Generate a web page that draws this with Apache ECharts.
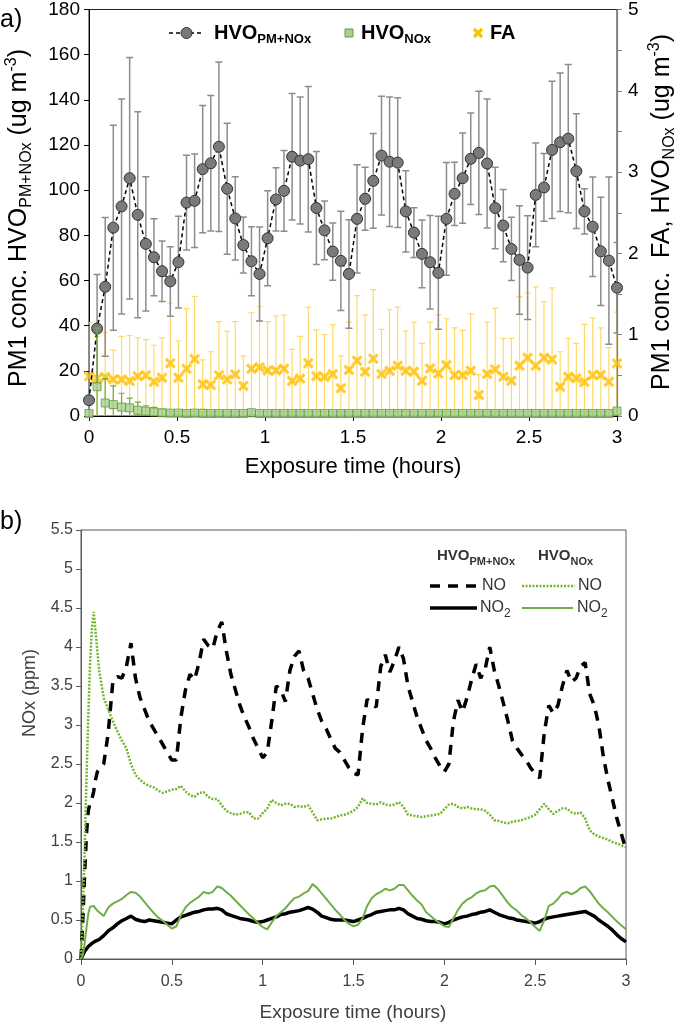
<!DOCTYPE html>
<html><head><meta charset="utf-8">
<script src="https://cdn.jsdelivr.net/npm/echarts@6/dist/echarts.min.js"></script>
<style>html,body{margin:0;padding:0;background:#fff}#c{width:685px;height:1029px}</style>
</head><body><div id="c"></div>
<script>
// ---------- Panel a) data ----------
const topTimes = [0,0.046,0.092,0.138,0.185,0.231,0.277,0.323,0.369,0.415,0.462,0.508,0.554,0.600,0.646,0.692,0.738,0.785,0.831,0.877,0.923,0.969,1.015,1.062,1.108,1.154,1.200,1.246,1.292,1.338,1.385,1.431,1.477,1.523,1.569,1.615,1.662,1.708,1.754,1.800,1.846,1.892,1.938,1.985,2.031,2.077,2.123,2.169,2.215,2.262,2.308,2.354,2.400,2.446,2.492,2.538,2.585,2.631,2.677,2.723,2.769,2.815,2.862,2.908,2.954,3.000];
const pmNoxMean = [7.0,38.7,57.2,83.4,92.8,105.3,89.1,76.2,70.3,64.1,59.6,68.1,94.5,95.3,109.3,111.9,119.2,100.6,87.5,75.7,68.5,62.9,78.7,95.9,99.7,114.8,113.1,113.7,92.1,82.2,72.8,68.7,62.9,87.3,96.2,104.1,115.3,112.6,112.2,90.6,81.2,71.8,68.1,63.4,87.3,98.4,105.3,113.9,116.5,111.8,92.1,84.3,74.0,69.1,65.7,97.9,101.2,117.8,121.2,122.8,108.4,90.6,83.8,72.9,68.8,56.8];
const pmNoxErr = [7.5,24,30.7,45.4,47.6,53.5,45.6,29.7,17,13.4,15.4,20.3,21,20.7,28.2,30,37.5,29,18.4,12.4,15.3,20.8,21,14,17.9,28,28.1,32.2,25,13,12.7,22,24,24,14,21,26.3,28.7,28.7,18,11,15,20.7,25,25,14,20,20.3,27.3,28.6,18,16,14,24,23,23,15,30.4,30.7,32.8,25.4,10,22,24,37,20];
const faMean = [0.49,0.46,0.48,0.45,0.45,0.43,0.49,0.50,0.42,0.47,0.65,0.47,0.58,0.70,0.39,0.38,0.50,0.45,0.51,0.37,0.58,0.60,0.56,0.56,0.58,0.43,0.46,0.65,0.49,0.48,0.515,0.34,0.565,0.68,0.544,0.704,0.516,0.557,0.618,0.557,0.544,0.434,0.585,0.524,0.626,0.503,0.503,0.557,0.258,0.516,0.573,0.483,0.434,0.618,0.716,0.618,0.716,0.696,0.36,0.483,0.463,0.418,0.503,0.503,0.42,0.647];
const faErr = [0.66,0.52,0.55,0.36,0.53,0.56,0.47,0.44,0.45,0.49,0.74,0.45,0.74,0.77,0.30,0.41,0.66,0.59,0.65,0.37,0.69,0.75,0.60,0.67,0.66,0.39,0.52,0.69,0.57,0.52,0.61,0.40,0.59,0.80,0.70,0.85,0.55,0.75,0.72,0.49,0.61,0.46,0.57,0.72,0.57,0.58,0.55,0.70,0.25,0.64,0.75,0.47,0.52,0.85,0.80,0.97,0.69,0.88,0.43,0.47,0.43,0.71,0.70,0.58,0.42,0.63];
const noxMean = [0.03,0.36,0.16,0.14,0.11,0.10,0.07,0.06,0.05,0.04,0.035,0.035,0.03,0.035,0.03,0.03,0.03,0.03,0.03,0.03,0.04,0.03,0.03,0.03,0.03,0.03,0.03,0.03,0.03,0.03,0.03,0.03,0.03,0.03,0.03,0.03,0.03,0.03,0.03,0.03,0.03,0.03,0.03,0.03,0.03,0.03,0.03,0.03,0.03,0.03,0.03,0.03,0.03,0.03,0.03,0.03,0.03,0.03,0.03,0.03,0.03,0.03,0.03,0.03,0.03,0.06];
const noxErr = [0.02,0.72,0.30,0.23,0.17,0.12,0.10,0.066,0.057,0.04,0.02,0.02,0.02,0.02,0.02,0.02,0.02,0.02,0.02,0.02,0.02,0.02,0.02,0.02,0.02,0.02,0.02,0.02,0.02,0.02,0.02,0.02,0.02,0.02,0.02,0.02,0.02,0.02,0.02,0.02,0.02,0.02,0.02,0.02,0.02,0.02,0.02,0.02,0.02,0.02,0.02,0.02,0.02,0.02,0.02,0.02,0.02,0.02,0.02,0.02,0.02,0.02,0.02,0.02,0.02,0.02];

// ---------- Panel b) data ----------
const noxTimes = [0,0.01,0.02,0.03,0.04,0.05,0.06,0.07,0.08,0.09,0.1,
 0.125,0.15,0.175,0.2,0.225,0.25,0.275,0.3,0.325,0.35,0.375,0.4,0.425,0.45,0.475,0.5,
 0.525,0.55,0.575,0.6,0.625,0.65,0.675,0.7,0.725,0.75,0.775,0.8,0.825,0.85,0.875,0.9,0.925,0.95,0.975,1.0,
 1.025,1.05,1.075,1.1,1.125,1.15,1.175,1.2,1.225,1.25,1.275,1.3,1.325,1.35,1.375,1.4,1.425,1.45,1.475,1.5,
 1.525,1.55,1.575,1.6,1.625,1.65,1.675,1.7,1.725,1.75,1.775,1.8,1.825,1.85,1.875,1.9,1.925,1.95,1.975,2.0,
 2.025,2.05,2.075,2.1,2.125,2.15,2.175,2.2,2.225,2.25,2.275,2.3,2.325,2.35,2.375,2.4,2.425,2.45,2.475,2.5,
 2.525,2.55,2.575,2.6,2.625,2.65,2.675,2.7,2.725,2.75,2.775,2.8,2.825,2.85,2.875,2.9,2.925,2.95,2.975,3.0];
const noPmNox = [0,0.5,1.1,1.6,1.9,2.0,2.05,2.15,2.3,2.4,2.42,
 2.5,2.9,3.55,3.62,3.6,3.75,4.05,3.6,3.35,3.2,3.05,2.95,2.85,2.75,2.65,2.55,
 2.55,3.1,3.45,3.65,3.58,3.8,4.1,4.02,3.98,4.2,4.32,3.95,3.65,3.45,3.25,3.1,2.97,2.82,2.7,2.58,
 2.65,3.05,3.5,3.45,3.3,3.7,3.88,3.95,3.7,3.6,3.4,3.2,3.05,2.95,2.82,2.7,2.65,2.55,2.45,2.38,
 2.36,2.95,3.33,3.27,3.23,3.75,3.9,3.68,3.82,4.0,3.85,3.5,3.3,3.1,2.95,2.8,2.7,2.58,2.48,2.4,
 2.5,3.05,3.32,3.17,3.35,3.58,3.78,3.6,3.72,4.0,3.7,3.5,3.28,3.05,2.8,2.7,2.62,2.55,2.45,2.38,
 2.32,2.9,3.25,3.15,3.25,3.5,3.7,3.55,3.6,3.75,3.8,3.4,3.25,3.0,2.6,2.3,2.05,1.8,1.6,1.4];
const noNox = [0,0.6,1.4,2.3,3.1,3.8,4.25,4.45,4.2,3.95,3.7,
 3.35,3.2,3.05,2.92,2.8,2.7,2.5,2.36,2.3,2.25,2.22,2.2,2.16,2.13,2.15,2.17,
 2.18,2.22,2.15,2.1,2.08,2.13,2.14,2.08,2.05,2.05,1.97,1.9,1.87,1.85,1.86,1.88,1.88,1.8,1.8,1.87,
 1.93,2.04,2.0,1.97,1.99,1.99,1.95,1.96,1.95,1.97,1.88,1.78,1.79,1.8,1.8,1.82,1.84,1.85,1.87,1.9,
 1.95,2.06,2.0,1.99,1.98,2.01,1.98,1.97,1.98,2.01,1.95,1.85,1.84,1.83,1.82,1.83,1.84,1.85,1.86,1.92,
 1.98,1.99,1.95,1.93,1.95,1.93,1.92,1.92,1.9,1.85,1.78,1.77,1.75,1.74,1.76,1.77,1.78,1.8,1.82,1.85,
 1.92,1.99,1.92,1.86,1.9,1.93,1.93,1.88,1.86,1.88,1.8,1.65,1.6,1.57,1.55,1.53,1.5,1.48,1.46,1.43];
const no2PmNox = [0,0.05,0.1,0.13,0.16,0.18,0.2,0.22,0.23,0.24,0.25,
 0.3,0.36,0.4,0.45,0.49,0.52,0.55,0.51,0.49,0.48,0.5,0.49,0.48,0.47,0.46,0.45,
 0.5,0.54,0.56,0.58,0.6,0.61,0.63,0.64,0.64,0.65,0.63,0.58,0.56,0.54,0.52,0.51,0.5,0.48,0.47,0.48,
 0.5,0.52,0.54,0.57,0.58,0.6,0.61,0.62,0.64,0.66,0.64,0.6,0.55,0.53,0.51,0.5,0.5,0.5,0.49,0.48,
 0.5,0.52,0.55,0.57,0.6,0.61,0.62,0.63,0.63,0.65,0.63,0.58,0.55,0.52,0.51,0.49,0.48,0.48,0.47,0.45,
 0.47,0.5,0.52,0.54,0.55,0.57,0.58,0.6,0.61,0.63,0.6,0.57,0.55,0.53,0.52,0.5,0.49,0.48,0.47,0.46,
 0.48,0.51,0.53,0.54,0.55,0.56,0.57,0.58,0.59,0.6,0.61,0.58,0.55,0.5,0.46,0.42,0.37,0.31,0.26,0.22];
const no2Nox = [0,0.05,0.2,0.4,0.58,0.67,0.69,0.68,0.65,0.62,0.6,
 0.55,0.66,0.71,0.74,0.77,0.82,0.86,0.85,0.8,0.73,0.66,0.59,0.53,0.49,0.44,0.39,
 0.42,0.56,0.66,0.72,0.76,0.8,0.86,0.84,0.86,0.93,0.91,0.86,0.81,0.75,0.69,0.63,0.57,0.52,0.46,0.41,
 0.38,0.47,0.55,0.6,0.65,0.72,0.78,0.8,0.84,0.87,0.96,0.91,0.84,0.77,0.7,0.63,0.57,0.5,0.45,0.42,
 0.44,0.52,0.68,0.78,0.83,0.86,0.9,0.88,0.9,0.95,0.95,0.88,0.81,0.75,0.7,0.6,0.55,0.5,0.46,0.42,
 0.41,0.52,0.63,0.71,0.76,0.79,0.84,0.87,0.88,0.93,0.94,0.88,0.8,0.72,0.66,0.62,0.56,0.52,0.47,0.41,
 0.36,0.5,0.68,0.71,0.77,0.84,0.86,0.83,0.86,0.91,0.93,0.87,0.79,0.71,0.65,0.6,0.54,0.48,0.43,0.38];

// ---------- build ----------
const NARROW = "'Liberation Sans Narrow','Arial Narrow','Liberation Sans',Arial,sans-serif";
const ARIAL = "'Liberation Sans',Arial,sans-serif";
const zip = (t, v) => t.map((x, i) => [x, v[i]]);

function errBars(name, xi, yi, times, mean, err, color, w, cap, z) {
  return {
    name, type: 'custom', xAxisIndex: xi, yAxisIndex: yi, z, clip: true, silent: true,
    data: times.map((t, i) => [t, mean[i], err[i]]),
    encode: { x: 0, y: 1 },
    renderItem(params, api) {
      const t = api.value(0), m = api.value(1), e = api.value(2);
      const hi = api.coord([t, m + e]), lo = api.coord([t, m - e]);
      const st = { stroke: color, lineWidth: w };
      return { type: 'group', children: [
        { type: 'line', shape: { x1: hi[0], y1: hi[1], x2: lo[0], y2: lo[1] }, style: st },
        { type: 'line', shape: { x1: hi[0] - cap, y1: hi[1], x2: hi[0] + cap, y2: hi[1] }, style: st },
        { type: 'line', shape: { x1: lo[0] - cap, y1: lo[1], x2: lo[0] + cap, y2: lo[1] }, style: st }
      ]};
    }
  };
}

const X_PATH = 'path://M2,0 L5,3 L8,0 L10,2 L7,5 L10,8 L8,10 L5,7 L2,10 L0,8 L3,5 L0,2 Z';

const richTop = {
  n: { fontFamily: NARROW, fontSize: 25, fill: '#000' },
  s: { fontFamily: NARROW, fontSize: 16, fill: '#000', padding: [15, 0, 0, 0] },
  p: { fontFamily: NARROW, fontSize: 16, fill: '#000', padding: [0, 0, 14, 0] }
};
const richLeg = {
  b: { fontFamily: NARROW, fontSize: 20, fontWeight: 'bold', fill: '#000' },
  s: { fontFamily: NARROW, fontSize: 13, fontWeight: 'bold', fill: '#000', padding: [12, 0, 0, 0] }
};
const richLeg2 = {
  b: { fontFamily: ARIAL, fontSize: 15, fontWeight: 'bold', fill: '#333' },
  s: { fontFamily: ARIAL, fontSize: 11, fontWeight: 'bold', fill: '#333', padding: [12, 0, 0, 0] },
  n: { fontFamily: ARIAL, fontSize: 16, fill: '#333' },
  m: { fontFamily: ARIAL, fontSize: 12, fill: '#333', padding: [12, 0, 0, 0] }
};

const graphics = [
  { type: 'text', x: 0, y: 20, style: { text: 'a)', fontFamily: NARROW, fontSize: 25, fill: '#000', verticalAlign: 'middle' } },
  { type: 'text', x: 0, y: 522, style: { text: 'b)', fontFamily: NARROW, fontSize: 25, fill: '#000', verticalAlign: 'middle' } },
  { type: 'text', x: 19, y: 218, rotation: Math.PI / 2,
    style: { text: '{n|PM1 conc. HVO}{s|PM+NOx}{n| (ug m}{p|-3}{n|)}', rich: richTop, align: 'center', verticalAlign: 'middle' } },
  { type: 'text', x: 662, y: 212, rotation: Math.PI / 2,
    style: { text: '{n|PM1 conc.  FA, HVO}{s|NOx}{n| (ug m}{p|-3}{n|)}', rich: richTop, align: 'center', verticalAlign: 'middle' } },
  { type: 'text', x: 353, y: 467, style: { text: 'Exposure time (hours)', fontFamily: NARROW, fontSize: 22, fill: '#000', align: 'center', verticalAlign: 'middle' } },
  // top legend
  { type: 'line', shape: { x1: 169, y1: 33, x2: 204, y2: 33 }, style: { stroke: '#000', lineWidth: 1.5, lineDash: [4, 3] } },
  { type: 'circle', shape: { cx: 186.5, cy: 33, r: 5.5 }, style: { fill: '#7a7a7a', stroke: '#333', lineWidth: 1 } },
  { type: 'text', x: 214, y: 33, style: { text: '{b|HVO}{s|PM+NOx}', rich: richLeg, verticalAlign: 'middle' } },
  { type: 'rect', shape: { x: 345, y: 29, width: 8, height: 8 }, style: { fill: '#a9d18e', stroke: '#5e9c3a', lineWidth: 1 } },
  { type: 'text', x: 361, y: 33, style: { text: '{b|HVO}{s|NOx}', rich: richLeg, verticalAlign: 'middle' } },
  { type: 'line', shape: { x1: 474, y1: 29, x2: 482, y2: 37 }, style: { stroke: '#ffc000', lineWidth: 3.2 } },
  { type: 'line', shape: { x1: 474, y1: 37, x2: 482, y2: 29 }, style: { stroke: '#ffc000', lineWidth: 3.2 } },
  { type: 'text', x: 490, y: 33, style: { text: '{b|FA}', rich: richLeg, verticalAlign: 'middle' } },
  // bottom titles
  { type: 'text', x: 30, y: 693, rotation: Math.PI / 2, style: { text: 'NOx (ppm)', fontFamily: ARIAL, fontSize: 18, fill: '#404040', align: 'center', verticalAlign: 'middle' } },
  { type: 'text', x: 353, y: 1013, style: { text: 'Exposure time (hours)', fontFamily: ARIAL, fontSize: 19, fill: '#404040', align: 'center', verticalAlign: 'middle' } },
  // bottom legend
  { type: 'text', x: 437, y: 556, style: { text: '{b|HVO}{s|PM+NOx}', rich: richLeg2, verticalAlign: 'middle' } },
  { type: 'text', x: 538, y: 556, style: { text: '{b|HVO}{s|NOx}', rich: richLeg2, verticalAlign: 'middle' } },
  { type: 'line', shape: { x1: 430, y1: 586, x2: 478, y2: 586 }, style: { stroke: '#000', lineWidth: 3.5, lineDash: [10, 8] } },
  { type: 'text', x: 482, y: 586, style: { text: 'NO', fontFamily: ARIAL, fontSize: 16, fill: '#333', verticalAlign: 'middle' } },
  { type: 'line', shape: { x1: 522, y1: 586, x2: 575, y2: 586 }, style: { stroke: '#72b62b', lineWidth: 2.5, lineDash: [2, 1.5] } },
  { type: 'text', x: 578, y: 586, style: { text: 'NO', fontFamily: ARIAL, fontSize: 16, fill: '#333', verticalAlign: 'middle' } },
  { type: 'line', shape: { x1: 430, y1: 608, x2: 477, y2: 608 }, style: { stroke: '#000', lineWidth: 3.5 } },
  { type: 'text', x: 480, y: 608, style: { text: '{n|NO}{m|2}', rich: richLeg2, verticalAlign: 'middle' } },
  { type: 'line', shape: { x1: 522, y1: 608, x2: 573, y2: 608 }, style: { stroke: '#70ad47', lineWidth: 2 } },
  { type: 'text', x: 577, y: 608, style: { text: '{n|NO}{m|2}', rich: richLeg2, verticalAlign: 'middle' } }
];

const option = {
  animation: false,
  backgroundColor: '#fff',
  grid: [
    { left: 89, top: 9, width: 528, height: 407, show: true, borderColor: '#222', borderWidth: 1, backgroundColor: 'transparent' },
    { left: 81, top: 530, width: 545, height: 429, show: true, borderColor: '#595959', borderWidth: 1, backgroundColor: 'transparent' }
  ],
  xAxis: [
    { gridIndex: 0, type: 'value', min: 0, max: 3, interval: 0.5,
      axisLine: { show: true, lineStyle: { color: '#000', width: 1 } },
      axisTick: { show: true, length: 5, lineStyle: { color: '#000' } },
      axisLabel: { fontFamily: NARROW, fontSize: 19, color: '#000', margin: 12 },
      splitLine: { show: false } },
    { gridIndex: 1, type: 'value', min: 0, max: 3, interval: 0.5,
      axisLine: { show: true, lineStyle: { color: '#595959', width: 1 } },
      axisTick: { show: true, length: 6, lineStyle: { color: '#595959' } },
      axisLabel: { fontFamily: ARIAL, fontSize: 16, color: '#404040', margin: 15 },
      splitLine: { show: false } }
  ],
  yAxis: [
    { gridIndex: 0, type: 'value', min: 0, max: 180, interval: 20, position: 'left',
      axisLine: { show: true, lineStyle: { color: '#000', width: 1 } },
      axisTick: { show: true, length: 5, lineStyle: { color: '#000' } },
      axisLabel: { fontFamily: NARROW, fontSize: 19, color: '#000', margin: 9 },
      splitLine: { show: false } },
    { gridIndex: 0, type: 'value', min: 0, max: 5, interval: 1, position: 'right',
      axisLine: { show: true, lineStyle: { color: '#7f7f7f', width: 1.2 } },
      axisTick: { show: true, length: 5, lineStyle: { color: '#7f7f7f' } },
      minorTick: { show: true, splitNumber: 2, length: 5, lineStyle: { color: '#7f7f7f' } },
      axisLabel: { fontFamily: NARROW, fontSize: 19, color: '#000', margin: 11 },
      splitLine: { show: false } },
    { gridIndex: 1, type: 'value', min: 0, max: 5.5, interval: 0.5, position: 'left',
      axisLine: { show: true, lineStyle: { color: '#595959', width: 1 } },
      axisTick: { show: true, length: 5, lineStyle: { color: '#595959' } },
      axisLabel: { fontFamily: ARIAL, fontSize: 16, color: '#404040', margin: 8 },
      splitLine: { show: false } }
  ],
  graphic: { elements: graphics },
  series: [
    errBars('FA err', 0, 1, topTimes, faMean, faErr, '#ffd966', 1.2, 3, 1),
    errBars('PM err', 0, 0, topTimes, pmNoxMean, pmNoxErr, '#8c8c8c', 1.5, 3.5, 2),
    { name: 'FA', type: 'scatter', xAxisIndex: 0, yAxisIndex: 1, z: 3,
      data: zip(topTimes, faMean), symbol: X_PATH, symbolSize: 11,
      itemStyle: { color: '#ffc000' } },
    { name: 'HVO PM+NOx', type: 'line', xAxisIndex: 0, yAxisIndex: 0, z: 4,
      data: zip(topTimes, pmNoxMean), symbol: 'circle', symbolSize: 11, showSymbol: true,
      lineStyle: { color: '#000', width: 1.5, type: [4, 3] },
      itemStyle: { color: '#7a7a7a', borderColor: '#333', borderWidth: 1 } },
    errBars('NOx err', 0, 1, topTimes, noxMean, noxErr, '#70ad47', 1.2, 3, 5),
    { name: 'HVO NOx', type: 'scatter', xAxisIndex: 0, yAxisIndex: 1, z: 6,
      data: zip(topTimes, noxMean), symbol: 'rect', symbolSize: 8,
      itemStyle: { color: '#a9d18e', borderColor: '#5e9c3a', borderWidth: 1 } },
    // panel b
    { name: 'NO PM+NOx', type: 'line', xAxisIndex: 1, yAxisIndex: 2, z: 2, showSymbol: false,
      data: zip(noxTimes, noPmNox), lineStyle: { color: '#000', width: 3.5, type: [10, 8] } },
    { name: 'NO2 PM+NOx', type: 'line', xAxisIndex: 1, yAxisIndex: 2, z: 2, showSymbol: false,
      data: zip(noxTimes, no2PmNox), lineStyle: { color: '#000', width: 3.5 } },
    { name: 'NO NOx', type: 'line', xAxisIndex: 1, yAxisIndex: 2, z: 3, showSymbol: false,
      data: zip(noxTimes, noNox), lineStyle: { color: '#72b62b', width: 2.5, type: [2, 1.5] } },
    { name: 'NO2 NOx', type: 'line', xAxisIndex: 1, yAxisIndex: 2, z: 3, showSymbol: false,
      data: zip(noxTimes, no2Nox), lineStyle: { color: '#70ad47', width: 2 } }
  ]
};
const chart = echarts.init(document.getElementById('c'), null, { renderer: 'canvas' });
chart.setOption(option);
</script>
</body></html>
